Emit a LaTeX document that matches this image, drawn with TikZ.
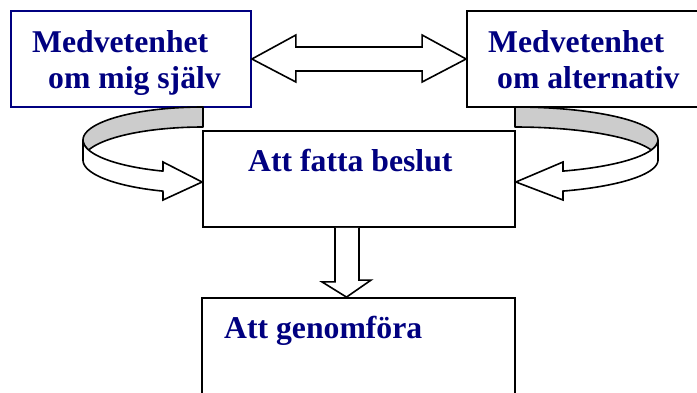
\documentclass[tikz,border=0pt]{standalone}
\usepackage{fontspec}
\setmainfont{Liberation Serif}
\usetikzlibrary{calc}
\definecolor{navytext}{RGB}{0,0,128}
\definecolor{ribbongray}{RGB}{204,204,204}
\begin{document}
\begin{tikzpicture}[x=1pt,y=-1pt,
  box/.style={draw=black, line width=1.8pt, fill=white, inner sep=0pt},
  lbl/.style={anchor=base west, inner sep=0pt, text=navytext, font=\fontsize{31.7}{36}\selectfont\bfseries},
  arrowline/.style={draw=black, line width=1.6pt, fill=white, line join=miter},
  ribback/.style={draw=black, line width=1.6pt, fill=ribbongray, line join=round},
  ribfront/.style={draw=black, line width=1.6pt, fill=white, line join=miter}]
\useasboundingbox (0,0) rectangle (697,392);
\clip (0,0) rectangle (697,392);
% boxes
\node[box, draw=navytext, minimum width=240pt, minimum height=96pt] (self) at (131,59) {};
\node[box, minimum width=240pt, minimum height=96pt] (alt) at (587,59) {};
\node[box, minimum width=312pt, minimum height=96pt] (decide) at (359,179) {};
\node[box, minimum width=313pt, minimum height=120pt] (impl) at (358.5,358) {};
\coordinate (ltip) at ($(decide.west)+(0,3)$);
\coordinate (rtip) at ($(decide.east)+(0,3)$);
% left ribbon
\path[ribback] (203,107) -- plot[domain=90:197.6, samples=40, variable=\t] ({203+120*cos(\t)},{140-33*sin(\t)}) -- plot[domain=162.4:90, samples=40, variable=\t] ({203+120*cos(\t)},{160-33*sin(\t)}) -- cycle;
\path[ribfront] (83,140) -- plot[domain=180:250.5, samples=40, variable=\t] ({203+120*cos(\t)},{140-33*sin(\t)}) -- (163,162) -- (ltip) -- (163,200) -- plot[domain=250.5:180, samples=40, variable=\t] ({203+120*cos(\t)},{160-33*sin(\t)}) -- cycle;
% right ribbon
\path[ribback] (515,107) -- plot[domain=90:-17.6, samples=40, variable=\t] ({515+143*cos(\t)},{140-33*sin(\t)}) -- plot[domain=17.6:90, samples=40, variable=\t] ({515+143*cos(\t)},{160-33*sin(\t)}) -- cycle;
\path[ribfront] (658,140) -- plot[domain=0:-70.4, samples=40, variable=\t] ({515+143*cos(\t)},{140-33*sin(\t)}) -- (563,162) -- (rtip) -- (563,200) -- plot[domain=-70.4:0, samples=40, variable=\t] ({515+143*cos(\t)},{160-33*sin(\t)}) -- cycle;
% double arrow
\path[arrowline] (self.east) -- ++(44,-24) -- ++(0,12) -- ($(alt.west)+(-44,-12)$) -- ++(0,-12) -- (alt.west) -- ++(-44,23) -- ++(0,-11) -- ($(self.east)+(44,12)$) -- ++(0,11) -- cycle;
% down arrow
\path[arrowline] ($(decide.south)+(-24,0)$) -- ++(0,54) -- ++(-13,0) -- ($(impl.north)+(-12,0)$) -- ++(24.5,-17) -- ++(-12,0) -- (decide.south);
% labels
\node[lbl] (s1) at (32,52) {Medvetenhet};
\node[lbl] (s2) at (48,88) {om mig själv};
\node[lbl] (a1) at (488,52) {Medvetenhet};
\node[lbl] (a2) at (497,88) {om alternativ};
\node[lbl] (d1) at (248,171) {Att fatta beslut};
\node[lbl] (i1) at (224,338) {Att genomföra};
\end{tikzpicture}
\end{document}
